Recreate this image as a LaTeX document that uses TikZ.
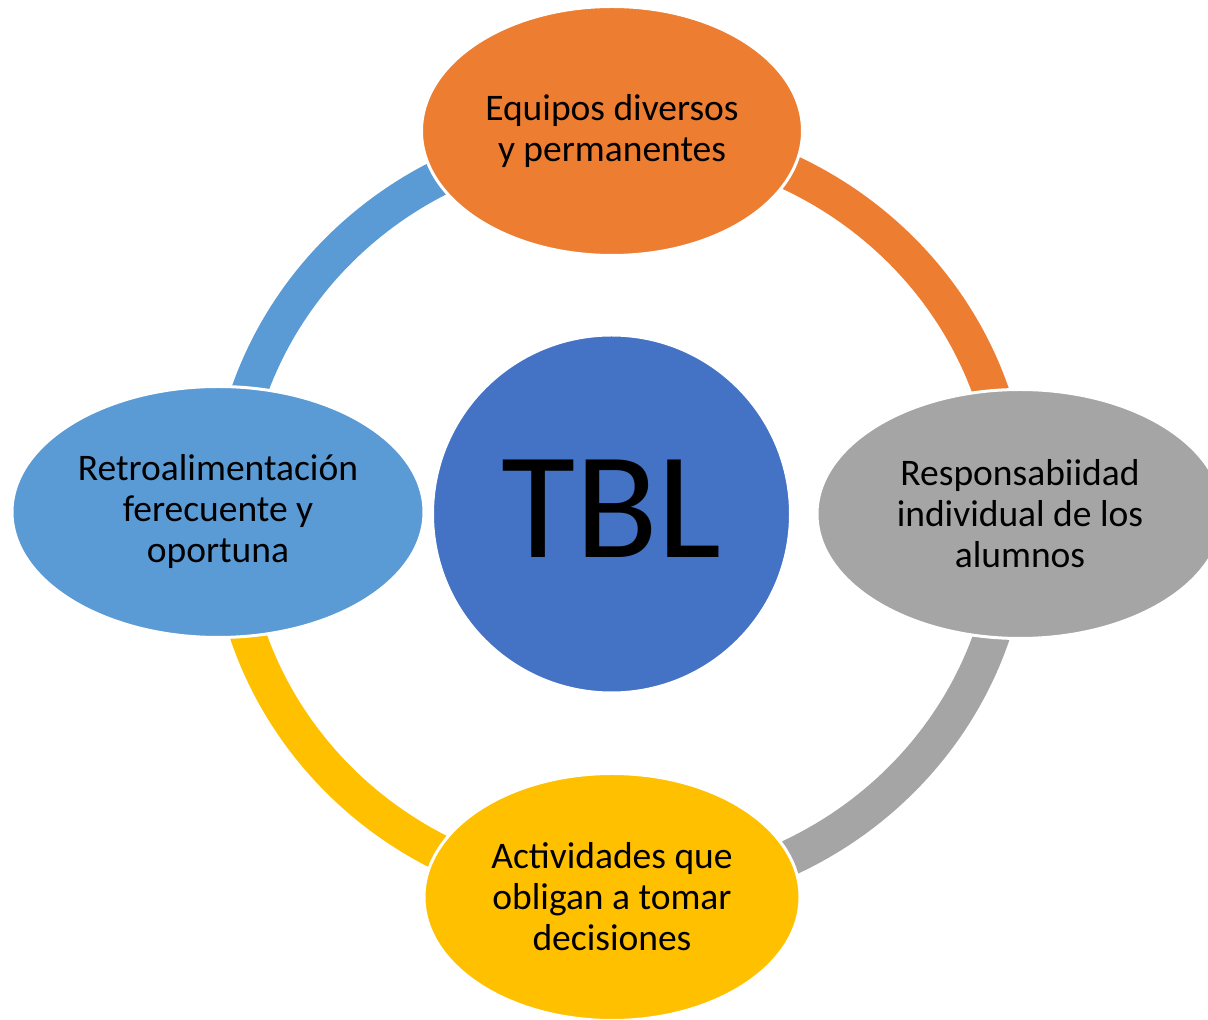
\documentclass[tikz,border=0pt]{standalone}
\usepackage{fontspec}
\setmainfont{Carlito}
\usetikzlibrary{shapes.geometric}
\definecolor{cOrange}{HTML}{ED7D31}
\definecolor{cGray}{HTML}{A5A5A5}
\definecolor{cYellow}{HTML}{FFC000}
\definecolor{cLight}{HTML}{5B9BD5}
\definecolor{cBlue}{HTML}{4472C4}
\tikzset{
  ring/.style={line width=36pt},
  bubble/.style={ellipse, draw=white, line width=3pt, inner sep=0pt, align=center,
    text=black, font=\fontsize{37.5}{41}\selectfont},
}
\begin{document}
\begin{tikzpicture}[x=1pt,y=1pt]
\useasboundingbox (0,0) rectangle (1208,1020);
\clip (0,0) rectangle (1208,1020);
% ring segments
\draw[ring, cOrange] (620,885) arc[start angle=90, end angle=0, x radius=392, y radius=380];
\draw[ring, cGray] (1012,505) arc[start angle=0, end angle=-90, x radius=392, y radius=380];
\draw[ring, cYellow] (620,125) arc[start angle=-90, end angle=-180, x radius=392, y radius=380];
\draw[ring, cLight] (228,505) arc[start angle=180, end angle=90, x radius=392, y radius=380];
% center
\node[circle, fill=cBlue, draw=white, line width=2pt, minimum size=357pt, inner sep=0pt] (tbl) at (611.5,506) {};
\node[text=black, font=\fontsize{152}{160}\selectfont, inner sep=0pt] (tbltext) at (611.5,511) {TBL};
% bubbles
\node[bubble, fill=cOrange, minimum width=381pt, minimum height=249pt] (top) at (612,889) {Equipos diversos\\y permanentes};
\node[bubble, fill=cGray, minimum width=406pt, minimum height=249pt] (right) at (1020,506) {Responsabiidad\\individual de los\\alumnos};
\node[bubble, fill=cYellow, minimum width=376pt, minimum height=247pt] (bottom) at (612,123) {Actividades que\\obligan a tomar\\decisiones};
\node[bubble, fill=cLight, minimum width=412pt, minimum height=251pt] (left) at (218,508) {Retroalimentación\\ferecuente y\\oportuna};
\end{tikzpicture}
\end{document}
